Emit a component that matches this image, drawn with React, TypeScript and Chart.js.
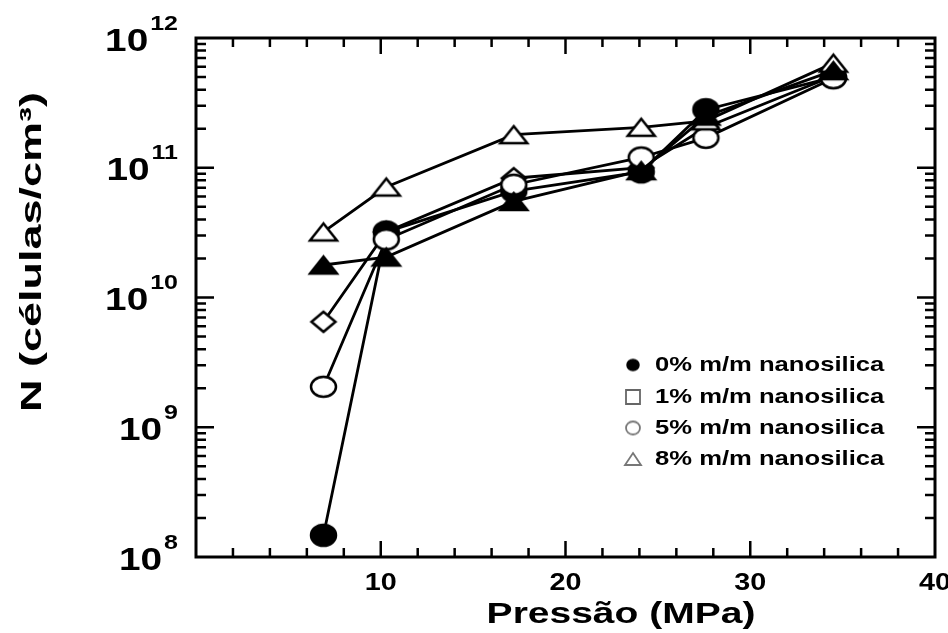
import React, { useEffect, useRef } from "react";
import { Chart, registerables } from "chart.js";
Chart.register(...registerables);

const pressures = [6.9, 10.3, 17.2, 24.1, 27.6, 34.5];
const series0 = [1.47e8, 3.2e10, 6.6e10, 9.3e10, 2.8e11, 5.0e11];
const series1 = [6.5e9, 3.2e10, 8.3e10, 1.0e11, 2.05e11, 5.1e11];
const series5 = [2.05e9, 2.8e10, 7.4e10, 1.2e11, 1.7e11, 4.9e11];
const series8 = [3.2e10, 7.1e10, 1.8e11, 2.05e11, 2.3e11, 6.4e11];
const seriesExtra = [1.78e10, 2.05e10, 5.5e10, 9.5e10, 2.5e11, 5.6e11];
const legendLabels = [
  "0% m/m nanosilica",
  "1% m/m nanosilica",
  "5% m/m nanosilica",
  "8% m/m nanosilica",
];
const xTickLabels = [10, 20, 30, 40];
const yDecades = [8, 9, 10, 11, 12];
const xTitle = "Pressão (MPa)";
const yTitle = "N (células/cm³)";

const FONT = '"Liberation Sans", Arial, Helvetica, sans-serif';

function makeMarker(kind: string, w: number, h: number, fill: string, stroke: string, lw: number) {
  const c = document.createElement("canvas");
  const m = 3;
  c.width = Math.ceil(w + 2 * m);
  c.height = Math.ceil(h + 2 * m);
  const g = c.getContext("2d")!;
  g.lineWidth = lw;
  g.strokeStyle = stroke;
  g.fillStyle = fill;
  const cx = c.width / 2;
  const cy = c.height / 2;
  g.beginPath();
  if (kind === "circle") {
    g.ellipse(cx, cy, w / 2, h / 2, 0, 0, Math.PI * 2);
  } else if (kind === "diamond") {
    g.moveTo(cx, cy - h / 2);
    g.lineTo(cx + w / 2, cy);
    g.lineTo(cx, cy + h / 2);
    g.lineTo(cx - w / 2, cy);
    g.closePath();
  } else if (kind === "triangle") {
    g.moveTo(cx, cy - h / 2);
    g.lineTo(cx + w / 2, cy + h / 2);
    g.lineTo(cx - w / 2, cy + h / 2);
    g.closePath();
  } else {
    g.rect(cx - w / 2, cy - h / 2, w, h);
  }
  g.fill();
  g.stroke();
  return c;
}

function drawText(
  ctx: CanvasRenderingContext2D,
  text: string,
  x: number,
  y: number,
  size: number,
  align: CanvasTextAlign,
  sx: number,
  rot = 0
) {
  ctx.save();
  ctx.translate(x, y);
  if (rot) ctx.rotate(rot);
  ctx.scale(sx, 1);
  ctx.font = `bold ${size}px ${FONT}`;
  ctx.textAlign = align;
  ctx.textBaseline = "middle";
  ctx.fillStyle = "#000";
  ctx.fillText(text, 0, 0);
  ctx.restore();
}

export default function App() {
  const ref = useRef<HTMLCanvasElement | null>(null);

  useEffect(() => {
    document.body.style.margin = "0";
    const canvas = ref.current!;
    const mFilledCircle = makeMarker("circle", 25, 21, "#000", "#000", 2.5);
    const mDiamond = makeMarker("diamond", 24, 20, "#fff", "#000", 2.5);
    const mOpenCircle = makeMarker("circle", 25, 20, "#fff", "#000", 2.5);
    const mOpenTri = makeMarker("triangle", 27, 17, "#fff", "#000", 2.5);
    const mFilledTri = makeMarker("triangle", 27, 17, "#000", "#000", 2.5);

    const legendMarkers = [
      makeMarker("circle", 12, 11, "#000", "#000", 1.5),
      makeMarker("square", 14, 14, "#fff", "#666", 1.8),
      makeMarker("circle", 14, 13, "#fff", "#777", 1.8),
      makeMarker("triangle", 16, 12, "#fff", "#777", 1.8),
    ];

    const mk = (vals: number[], style: HTMLCanvasElement, label: string) => ({
      label,
      data: pressures.map((p, i) => ({ x: p, y: vals[i] })),
      borderColor: "#000",
      borderWidth: 2.8,
      pointStyle: style,
      pointRadius: 10,
      tension: 0,
      fill: false,
    });

    const framePlugin = {
      id: "frameTicks",
      beforeDatasetsDraw(chart: any) {
        const ctx = chart.ctx as CanvasRenderingContext2D;
        const a = chart.chartArea;
        const xs = chart.scales.x;
        const ys = chart.scales.y;
        ctx.save();
        ctx.strokeStyle = "#000";
        ctx.lineWidth = 2.5;
        ctx.beginPath();
        for (let v = 2; v < 40; v += 2) {
          const px = xs.getPixelForValue(v);
          const len = v % 10 === 0 ? 16 : 9;
          ctx.moveTo(px, a.bottom);
          ctx.lineTo(px, a.bottom - len);
          ctx.moveTo(px, a.top);
          ctx.lineTo(px, a.top + len);
        }
        for (let d = 8; d < 12; d++) {
          for (let k = 1; k <= 9; k++) {
            if (d === 8 && k === 1) continue;
            const py = ys.getPixelForValue(k * Math.pow(10, d));
            const len = k === 1 ? 18 : 10;
            ctx.moveTo(a.left, py);
            ctx.lineTo(a.left + len, py);
            ctx.moveTo(a.right, py);
            ctx.lineTo(a.right - len, py);
          }
        }
        ctx.stroke();
        ctx.lineWidth = 3;
        ctx.strokeRect(a.left, a.top, a.right - a.left, a.bottom - a.top);
        ctx.restore();
      },
      afterDraw(chart: any) {
        const ctx = chart.ctx as CanvasRenderingContext2D;
        const a = chart.chartArea;
        const xs = chart.scales.x;
        const ys = chart.scales.y;
        const sx = 1.25;
        xTickLabels.forEach((v) => {
          drawText(ctx, String(v), xs.getPixelForValue(v), a.bottom + 27, 23, "center", sx);
        });
        yDecades.forEach((d) => {
          const py = ys.getPixelForValue(Math.pow(10, d));
          const right = 178;
          ctx.font = `bold 20px ${FONT}`;
          const ew = ctx.measureText(String(d)).width * sx;
          ctx.font = `bold 31px ${FONT}`;
          const bw = ctx.measureText("10").width * sx;
          drawText(ctx, String(d), right - ew, py - 14, 20, "left", sx);
          drawText(ctx, "10", right - ew - 2 - bw, py + 4, 31, "left", sx);
        });
        drawText(ctx, xTitle, 621, 615, 30, "center", 1.3);
        drawText(ctx, yTitle, 33, 252, 30, "center", 1.5, -Math.PI / 2);
        const rows = [365, 397, 428, 459];
        legendLabels.forEach((t, i) => {
          const m = legendMarkers[i];
          ctx.drawImage(m, 633 - m.width / 2, rows[i] - m.height / 2);
          drawText(ctx, t, 655, rows[i], 21, "left", 1.22);
        });
      },
    };

    const chart = new Chart(canvas, {
      type: "line",
      data: {
        datasets: [
          mk(seriesExtra, mFilledTri, "extra"),
          mk(series8, mOpenTri, legendLabels[3]),
          mk(series5, mOpenCircle, legendLabels[2]),
          mk(series0, mFilledCircle, legendLabels[0]),
          mk(series1, mDiamond, legendLabels[1]),
        ] as any,
      },
      options: {
        responsive: false,
        animation: false,
        layout: { padding: { left: 196, right: 13, top: 38, bottom: 76 } },
        plugins: { legend: { display: false }, tooltip: { enabled: false } },
        scales: {
          x: { type: "linear", min: 0, max: 40, display: false },
          y: { type: "logarithmic", min: 1e8, max: 1e12, display: false },
        },
      } as any,
      plugins: [framePlugin],
    });
    return () => chart.destroy();
  }, []);

  return (
    <canvas
      ref={ref}
      width={948}
      height={633}
      style={{ display: "block", width: 948, height: 633, background: "#fff" }}
    />
  );
}
